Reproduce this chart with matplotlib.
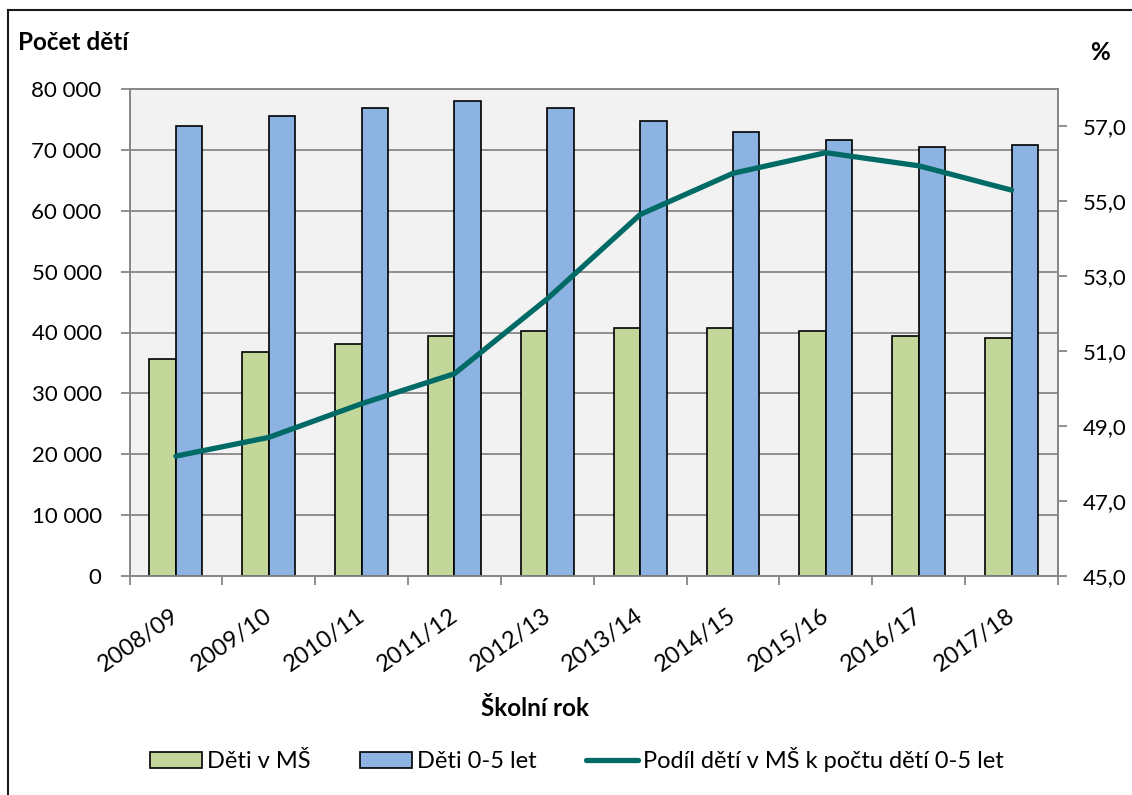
import matplotlib
matplotlib.use("Agg")
import matplotlib.pyplot as plt
import numpy as np
from matplotlib.patches import Patch
from matplotlib.lines import Line2D
from matplotlib.ticker import FuncFormatter
from matplotlib.transforms import ScaledTranslation

# ---- data ----
years = ["2008/09", "2009/10", "2010/11", "2011/12", "2012/13",
         "2013/14", "2014/15", "2015/16", "2016/17", "2017/18"]
deti_ms = [35600, 36800, 38100, 39400, 40300, 40800, 40700, 40300, 39400, 39100]
deti_0_5 = [73900, 75600, 76900, 78000, 76900, 74700, 73000, 71600, 70400, 70800]
podil = [48.2, 48.7, 49.6, 50.4, 52.4, 54.65, 55.75, 56.3, 55.95, 55.3]

left_ticks = [0, 10000, 20000, 30000, 40000, 50000, 60000, 70000, 80000]
right_ticks = [45, 47, 49, 51, 53, 55, 57]

# ---- style ----
FONT = "Lato"
plt.rcParams["font.family"] = [FONT, "DejaVu Sans"]
GREEN = "#C4D79B"
BLUE = "#8DB3E2"
TEAL = "#006B66"
GRID = "#878787"
FS = 16
FSX = 17

W, H = 1132, 795
fig = plt.figure(figsize=(W / 100, H / 100), dpi=100)
fig.patch.set_facecolor("white")

L, R, T, B = 129.5, 1058, 89, 576
ax = fig.add_axes([L / W, 1 - B / H, (R - L) / W, (B - T) / H])
ax.set_facecolor("#F2F2F2")

x = np.arange(len(years))
bw = 0.285
ax.bar(x - bw / 2, deti_ms, width=bw, color=GREEN, edgecolor="black", linewidth=1.2, zorder=3)
ax.bar(x + bw / 2, deti_0_5, width=bw, color=BLUE, edgecolor="black", linewidth=1.2, zorder=3)

ax.set_xlim(-0.5, len(years) - 0.5)
ax.set_ylim(0, 80000)
ax.set_yticks(left_ticks)
ax.yaxis.set_major_formatter(FuncFormatter(lambda v, p: f"{int(v):,}".replace(",", " ")))
ax.grid(axis="y", color=GRID, linewidth=1.3, zorder=0)
ax.set_axisbelow(True)
for s in ax.spines.values():
    s.set_color(GRID)
    s.set_linewidth(1.3)
ax.tick_params(axis="y", which="major", length=6.5, width=1.3, color=GRID,
               pad=13.5, labelsize=FS, direction="out")

ax.set_xticks(x)
ax.set_xticks(np.arange(-0.5, len(years)), minor=True)
ax.set_xticklabels(years, rotation=35, ha="right", rotation_mode="anchor", fontsize=FSX)
ax.tick_params(axis="x", which="major", length=0, pad=21)
ax.tick_params(axis="x", which="minor", length=6.5, width=1.3, color=GRID, direction="out")
off = ScaledTranslation(-5 / 100, 0, fig.dpi_scale_trans)
for lab in ax.get_xticklabels():
    lab.set_transform(lab.get_transform() + off)

ax2 = ax.twinx()
ax2.plot(x, podil, color=TEAL, linewidth=3.8, solid_capstyle="round", zorder=5)
ax2.set_ylim(45, 58)
ax2.set_yticks(right_ticks)
ax2.yaxis.set_major_formatter(FuncFormatter(lambda v, p: f"{v:.1f}".replace(".", ",")))
ax2.tick_params(axis="y", length=6.5, width=1.3, color=GRID, pad=11.5, labelsize=FS)
for s in ax2.spines.values():
    s.set_color(GRID)
    s.set_linewidth(1.3)

# titles
fig.text(18 / W, 1 - 42 / H, "Počet dětí", fontsize=17.5, fontweight="bold", ha="left", va="center")
fig.text(1100 / W, 1 - 52 / H, "%", fontsize=17.5, fontweight="bold", ha="center", va="center")
fig.text(535 / W, 1 - 708 / H, "Školní rok", fontsize=17.5, fontweight="bold", ha="center", va="center")

# legend
handles = [
    Patch(facecolor=GREEN, edgecolor="black", linewidth=1.2),
    Patch(facecolor=BLUE, edgecolor="black", linewidth=1.2),
    Line2D([0], [0], color=TEAL, linewidth=3.8, solid_capstyle="round"),
]
labels = ["Děti v MŠ", "Děti 0-5 let", "Podíl dětí v MŠ k počtu dětí 0-5 let"]
fig.legend(handles, labels, loc="center", bbox_to_anchor=(577 / W, 1 - 760 / H), ncol=3,
           frameon=False, fontsize=FSX, handlelength=2.2, handleheight=0.65,
           handletextpad=0.2, columnspacing=2.1)

# outer border (left and top only)
fig.add_artist(Line2D([8 / W, 8 / W], [0, 1 - 10 / H], color="#1a1a1a", linewidth=1.5,
                      transform=fig.transFigure))
fig.add_artist(Line2D([8 / W, 1], [1 - 10 / H, 1 - 10 / H], color="#1a1a1a", linewidth=1.5,
                      transform=fig.transFigure))

fig.savefig("out.png", dpi=100)
